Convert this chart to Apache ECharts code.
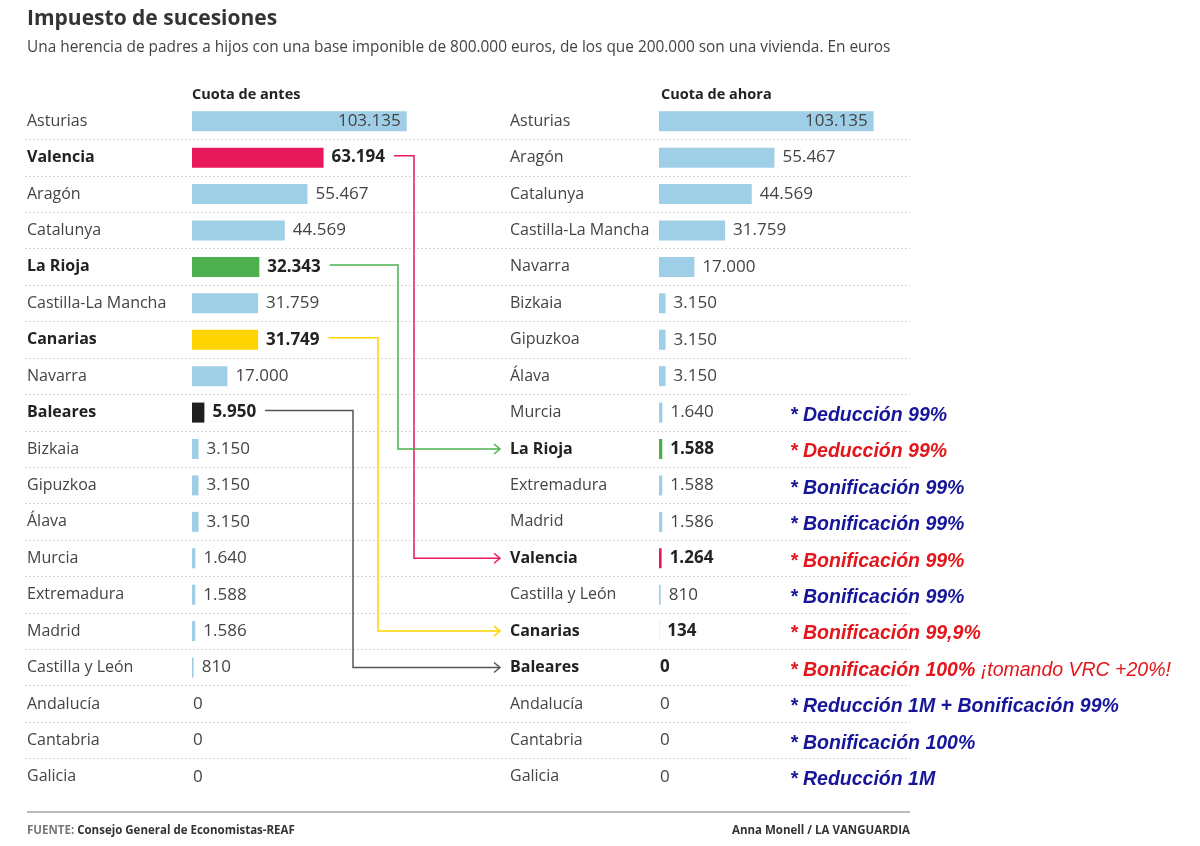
<!DOCTYPE html>
<html lang="es">
<head>
<meta charset="utf-8">
<title>Impuesto de sucesiones</title>
<script src="https://cdn.jsdelivr.net/npm/echarts@6/dist/echarts.min.js"></script>
<style>
  html, body { margin: 0; padding: 0; background: #fff; }
  #chart { width: 1200px; height: 846px; }
</style>
</head>
<body>
<div id="chart"></div>
<script>
// Cuota de antes
var regionsBefore = ['Asturias', 'Valencia', 'Aragón', 'Catalunya', 'La Rioja', 'Castilla-La Mancha', 'Canarias',
  'Navarra', 'Baleares', 'Bizkaia', 'Gipuzkoa', 'Álava', 'Murcia', 'Extremadura', 'Madrid', 'Castilla y León',
  'Andalucía', 'Cantabria', 'Galicia'];
var valuesBefore = [103135, 63194, 55467, 44569, 32343, 31759, 31749, 17000, 5950, 3150, 3150, 3150, 1640, 1588, 1586, 810, 0, 0, 0];

// Cuota de ahora
var regionsNow = ['Asturias', 'Aragón', 'Catalunya', 'Castilla-La Mancha', 'Navarra', 'Bizkaia', 'Gipuzkoa', 'Álava',
  'Murcia', 'La Rioja', 'Extremadura', 'Madrid', 'Valencia', 'Castilla y León', 'Canarias', 'Baleares',
  'Andalucía', 'Cantabria', 'Galicia'];
var valuesNow = [103135, 55467, 44569, 31759, 17000, 3150, 3150, 3150, 1640, 1588, 1588, 1586, 1264, 810, 134, 0, 0, 0, 0];

// regiones destacadas
var highlighted = ['Valencia', 'La Rioja', 'Canarias', 'Baleares'];
var highlightColors = ['#e8185c', '#4cb04f', '#ffd400', '#1f1f1f'];

// notas a la derecha
var noteRegions = ['Murcia', 'La Rioja', 'Extremadura', 'Madrid', 'Valencia', 'Castilla y León', 'Canarias', 'Baleares',
  'Andalucía', 'Cantabria', 'Galicia'];
var noteTexts = ['* Deducción 99%', '* Deducción 99%', '* Bonificación 99%', '* Bonificación 99%', '* Bonificación 99%',
  '* Bonificación 99%', '* Bonificación 99,9%', '* Bonificación 100%', '* Reducción 1M + Bonificación 99%',
  '* Bonificación 100%', '* Reducción 1M'];
var noteExtra = ['', '', '', '', '', '', '', ' ¡tomando VRC +20%!', '', '', ''];
var noteIsRed = [false, true, false, false, true, false, true, true, false, false, false];

var FONT = "'Open Sans', sans-serif";
var NOTE_FONT = "'Liberation Sans', sans-serif";
var BLUE_BAR = '#9fcfe6';
var ROW_TOP = 103, ROW_H = 692;
var FS = 16, VFS = 17;

function fmt(v) {
  return String(v).replace(/\B(?=(\d{3})+(?!\d))/g, '.');
}

function barData(regions, values) {
  return values.map(function (v, i) {
    var h = highlighted.indexOf(regions[i]);
    var isFirst = i === 0;
    return {
      value: v,
      itemStyle: { color: h >= 0 ? highlightColors[h] : BLUE_BAR },
      label: {
        position: isFirst ? 'insideRight' : 'right',
        distance: isFirst ? 6 : (v === 0 ? 1 : 8),
        fontWeight: h >= 0 ? 'bold' : 'normal',
        color: h >= 0 ? '#222' : '#444'
      }
    };
  });
}

function catLabel(margin) {
  return {
    show: true,
    align: 'left',
    margin: margin,
    fontFamily: FONT,
    fontSize: FS,
    color: '#444',
    formatter: function (v) {
      return highlighted.indexOf(v) >= 0 ? '{b|' + v + '}' : v;
    },
    rich: { b: { fontWeight: 'bold', color: '#222', fontFamily: FONT, fontSize: FS } }
  };
}

var chart = echarts.init(document.getElementById('chart'));

var option = {
  animation: false,
  backgroundColor: '#fff',
  title: [
    { text: 'Impuesto de sucesiones', left: 27, top: 9, padding: 0,
      textStyle: { fontFamily: FONT, fontSize: 21, fontWeight: 'bold', color: '#333' } },
    { text: 'Una herencia de padres a hijos con una base imponible de 800.000 euros, de los que 200.000 son una vivienda. En euros',
      left: 27, top: 40, padding: 0, textStyle: { fontFamily: FONT, fontSize: 15.4, fontWeight: 'normal', color: '#444' } },
    { text: 'Cuota de antes', left: 192, top: 87, padding: 0,
      textStyle: { fontFamily: FONT, fontSize: 14.5, fontWeight: 'bold', color: '#222' } },
    { text: 'Cuota de ahora', left: 661, top: 87, padding: 0,
      textStyle: { fontFamily: FONT, fontSize: 14.5, fontWeight: 'bold', color: '#222' } },
    { text: 'FUENTE: {b|Consejo General de Economistas-REAF}', left: 27, top: 825, padding: 0,
      textStyle: { fontFamily: FONT, fontSize: 11.5, color: '#777',
        rich: { b: { fontFamily: FONT, fontSize: 11.5, fontWeight: 'bold', color: '#333' } } } },
    { text: 'Anna Monell / LA VANGUARDIA', right: 290, top: 825, padding: 0,
      textStyle: { fontFamily: FONT, fontSize: 11.5, fontWeight: 'bold', color: '#333' } }
  ],
  grid: [
    { left: 192, width: 229, top: ROW_TOP, height: ROW_H },
    { left: 659, width: 229, top: ROW_TOP, height: ROW_H },
    { left: 25, right: 290, top: ROW_TOP + ROW_H / 19, height: ROW_H * 17 / 19 }
  ],
  xAxis: [
    { type: 'value', gridIndex: 0, min: 0, max: 110000, show: false },
    { type: 'value', gridIndex: 1, min: 0, max: 110000, show: false },
    { type: 'value', gridIndex: 2, min: 0, max: 1, show: false }
  ],
  yAxis: [
    { type: 'category', gridIndex: 0, data: regionsBefore, inverse: true,
      axisLine: { show: false }, axisTick: { show: false }, axisLabel: catLabel(165) },
    { type: 'category', gridIndex: 1, data: regionsNow, inverse: true,
      axisLine: { show: false }, axisTick: { show: false }, axisLabel: catLabel(149) },
    { type: 'value', gridIndex: 2, min: 0, max: 17, interval: 1, inverse: true,
      axisLine: { show: false }, axisTick: { show: false }, axisLabel: { show: false },
      splitLine: { show: true, lineStyle: { color: '#d4d4d4', type: [2, 2], width: 1 } } }
  ],
  series: [
    { type: 'bar', xAxisIndex: 0, yAxisIndex: 0, barWidth: 20, data: barData(regionsBefore, valuesBefore),
      label: { show: true, fontFamily: FONT, fontSize: VFS, formatter: function (p) { return fmt(p.value); } } },
    { type: 'bar', xAxisIndex: 1, yAxisIndex: 1, barWidth: 20, data: barData(regionsNow, valuesNow),
      label: { show: true, fontFamily: FONT, fontSize: VFS, formatter: function (p) { return fmt(p.value); } } },
    { type: 'line', xAxisIndex: 2, yAxisIndex: 2, data: [], silent: true }
  ]
};
chart.setOption(option);

// conectores antes -> ahora y notas
var ctx = document.createElement('canvas').getContext('2d');
ctx.font = 'bold ' + VFS + 'px ' + FONT;
var elbowX = [414, 398, 378, 353];
var elements = [];

highlighted.forEach(function (name, k) {
  var i = regionsBefore.indexOf(name);
  var y1 = chart.convertToPixel({ yAxisIndex: 0 }, name);
  var y2 = chart.convertToPixel({ yAxisIndex: 1 }, name);
  var barEnd = chart.convertToPixel({ xAxisIndex: 0 }, valuesBefore[i]);
  var x1 = barEnd + 8 + ctx.measureText(fmt(valuesBefore[i])).width + 9;
  var x2 = 500;
  var color = highlightColors[k] === '#1f1f1f' ? '#555' : highlightColors[k];
  elements.push({
    type: 'polyline', silent: true,
    shape: { points: [[x1, y1 - 2], [elbowX[k], y1 - 2], [elbowX[k], y2], [x2, y2]] },
    style: { stroke: color, lineWidth: 1.5, fill: null }
  });
  elements.push({
    type: 'polyline', silent: true,
    shape: { points: [[x2 - 6, y2 - 5], [x2, y2], [x2 - 6, y2 + 5]] },
    style: { stroke: color, lineWidth: 1.5, fill: null }
  });
});

noteRegions.forEach(function (name, k) {
  var y = chart.convertToPixel({ yAxisIndex: 1 }, name);
  var col = noteIsRed[k] ? '#e3161b' : '#16169a';
  elements.push({
    type: 'text', silent: true, x: 790, y: y + 3,
    style: {
      text: '{b|' + noteTexts[k] + '}' + (noteExtra[k] ? '{n|' + noteExtra[k] + '}' : ''),
      verticalAlign: 'middle',
      rich: {
        b: { fontFamily: NOTE_FONT, fontSize: 19.5, fontWeight: 'bold', fontStyle: 'italic', fill: col },
        n: { fontFamily: NOTE_FONT, fontSize: 19.5, fontWeight: 'normal', fontStyle: 'italic', fill: col }
      }
    }
  });
});

// línea final
elements.push({
  type: 'line', silent: true,
  shape: { x1: 27, y1: 812, x2: 910, y2: 812 },
  style: { stroke: '#bbb', lineWidth: 2 }
});

chart.setOption({ graphic: { elements: elements } });
window.onresize = chart.resize;
</script>
</body>
</html>
